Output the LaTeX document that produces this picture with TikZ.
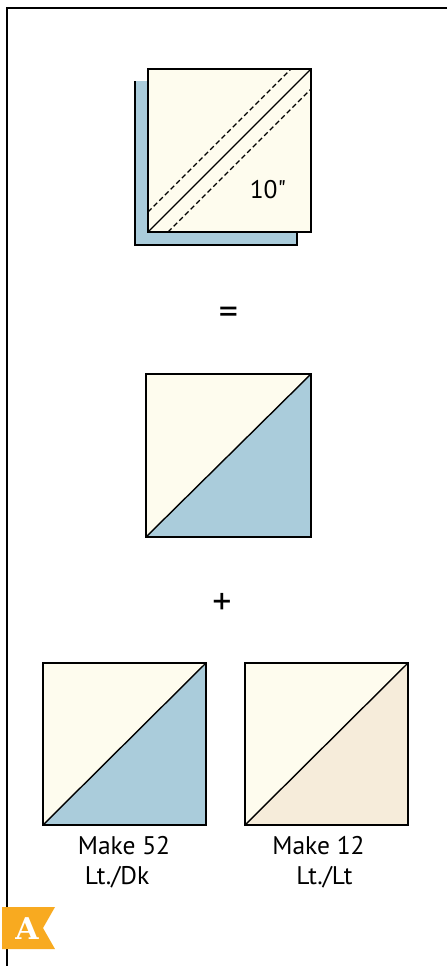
\documentclass[tikz,border=0pt]{standalone}
\usepackage{fontspec}
\setmainfont{PT Sans}
\newfontfamily\quotefont{PT Sans}[Ligatures=TeXOff]
\newfontfamily\badgefont{DejaVu Serif}
\definecolor{cream}{RGB}{254,252,238}
\definecolor{qblue}{RGB}{170,204,219}
\definecolor{beige}{RGB}{246,236,218}
\definecolor{badge}{RGB}{248,170,32}
\tikzset{
  patch/.style={draw=black, line width=1.8pt, line join=miter},
  seam/.style={draw=black, line width=1.4pt},
  stitch/.style={draw=black, line width=1.4pt, dash pattern=on 5pt off 3pt},
  lbl/.style={font=\fontsize{25.5}{30}\selectfont, inner sep=0pt, anchor=base},
  sign/.style={font=\fontsize{38}{38}\selectfont, inner sep=0pt}
}
\begin{document}
\begin{tikzpicture}[x=1pt,y=-1pt]
\useasboundingbox (0,0) rectangle (447,966);
\fill[white] (0,0) rectangle (447,966);
% frame
\draw[line width=2pt] (447,8) -- (7,8) -- (7,966);
% top: layered squares
\fill[qblue] (135,81) rectangle (297,245);
\draw[patch] (135,81) -- (135,245) -- (297,245) -- (297,232);
\fill[cream] (148,69) rectangle (311,232);
\draw[patch] (148,69) rectangle (311,232);
\draw[seam] (148,232) -- (311,69);
\draw[stitch] (148,212) -- (291,69);
\draw[stitch] (168,232) -- (311,89);
\node[lbl, font=\quotefont\fontsize{25.5}{30}\selectfont] (ten) at (268,198) {10"};
% equals
\node[sign] (eq) at (228.5,315.5) {=};
% middle square
\fill[cream] (146,374) rectangle (311,537);
\fill[qblue] (146,537) -- (311,374) -- (311,537) -- cycle;
\draw[patch] (146,374) rectangle (311,537);
\draw[seam] (146,537) -- (311,374);
% plus
\node[sign] (plus) at (222,604) {+};
% bottom left
\fill[cream] (43,663) rectangle (206,825);
\fill[qblue] (43,825) -- (206,663) -- (206,825) -- cycle;
\draw[patch] (43,663) rectangle (206,825);
\draw[seam] (43,825) -- (206,663);
% bottom right
\fill[cream] (245,663) rectangle (408,825);
\fill[beige] (245,825) -- (408,663) -- (408,825) -- cycle;
\draw[patch] (245,663) rectangle (408,825);
\draw[seam] (245,825) -- (408,663);
% labels
\node[lbl] (m52) at (124,854) {Make 52};
\node[lbl] (ld) at (117,884) {Lt./Dk};
\node[lbl] (m12) at (318.5,854) {Make 12};
\node[lbl] (ll) at (324.5,884) {Lt./Lt};
% badge
\fill[badge] (2,907) -- (55,907) -- (43,928) -- (55,949) -- (2,949) -- cycle;
\node[text=white, font=\badgefont\bfseries\fontsize{30}{30}\selectfont, inner sep=0pt, anchor=base] (bA) at (27,939) {A};
\end{tikzpicture}
\end{document}
